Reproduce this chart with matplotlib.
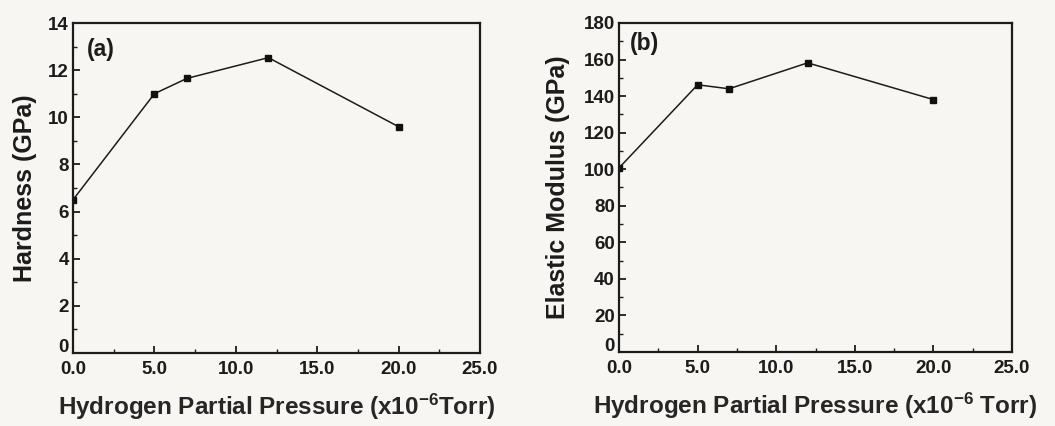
import matplotlib
matplotlib.use("Agg")
import matplotlib.pyplot as plt
from matplotlib.ticker import MultipleLocator, FormatStrFormatter, FuncFormatter

plt.rcParams['font.family'] = ['Liberation Sans', 'DejaVu Sans']
plt.rcParams['font.weight'] = 'bold'
plt.rcParams['mathtext.fontset'] = 'custom'
plt.rcParams['mathtext.bf'] = 'Liberation Sans:bold'
plt.rcParams['mathtext.rm'] = 'Liberation Sans:bold'
plt.rcParams['mathtext.default'] = 'bf'

# data
pressure = [0, 5, 7, 12, 20]
hardness = [6.5, 11.0, 11.65, 12.53, 9.6]
modulus = [100.7, 146.2, 144.0, 158.2, 138.1]

bg = '#f7f6f3'
ink = '#1c1c1c'
fig = plt.figure(figsize=(10.55, 4.26), dpi=100, facecolor=bg)
ax1 = fig.add_axes([73/1055, 1-353/426, (480-73)/1055, (353-23)/426])
ax2 = fig.add_axes([619/1055, 1-352/426, (1012-619)/1055, (352-23)/426])

panels = [
    (ax1, hardness, 14, 2, 1, 'Hardness (GPa)', 8, '(a)', (0.034, 0.955),
     'Hydrogen Partial Pressure (x10$^{-6}$Torr)'),
    (ax2, modulus, 180, 20, 10, 'Elastic Modulus (GPa)', 10, '(b)', (0.028, 0.972),
     'Hydrogen Partial Pressure (x10$^{-6}$ Torr)'),
]

# the y "0" label is drawn on its own, a bit higher, like the original
yfmt = FuncFormatter(lambda v, p: '' if v == 0 else '%d' % v)

for ax, vals, ymax, ymaj, ymin, ylab, lpad, tag, tpos, xlab in panels:
    ax.set_facecolor(bg)
    ax.plot(pressure, vals, color=ink, lw=1.1, marker='s', ms=4.5,
            mfc='#111111', mec='#111111')
    ax.set_xlim(0, 25)
    ax.set_ylim(0, ymax)
    ax.xaxis.set_major_locator(MultipleLocator(5))
    ax.xaxis.set_minor_locator(MultipleLocator(2.5))
    ax.xaxis.set_major_formatter(FormatStrFormatter('%.1f'))
    ax.yaxis.set_major_locator(MultipleLocator(ymaj))
    ax.yaxis.set_minor_locator(MultipleLocator(ymin))
    ax.yaxis.set_major_formatter(yfmt)
    ax.tick_params(which='major', direction='in', length=5, width=1.3,
                   labelsize=13.5, colors=ink)
    ax.tick_params(axis='x', which='major', pad=6)
    ax.tick_params(axis='y', which='major', pad=3)
    ax.tick_params(which='minor', direction='in', length=3, width=1.0,
                   colors=ink)
    for s in ax.spines.values():
        s.set_linewidth(1.6)
        s.set_color(ink)
    for lb in ax.get_xticklabels() + ax.get_yticklabels():
        lb.set_fontweight('bold')
    ax.annotate('0', xy=(0, 0), xycoords='axes fraction', xytext=(-3, 4),
                textcoords='offset points', ha='right', va='center',
                fontsize=13.5, fontweight='bold', color=ink)
    ax.set_ylabel(ylab, fontsize=18, fontweight='bold', labelpad=lpad,
                  color=ink)
    ax.set_xlabel(xlab, fontsize=17.5, fontweight='bold', labelpad=10,
                  color='#262626')
    ax.text(tpos[0], tpos[1], tag, transform=ax.transAxes, fontsize=16.5,
            fontweight='bold', va='top', ha='left', color=ink)

fig.savefig('out.png', dpi=100, facecolor=bg)
